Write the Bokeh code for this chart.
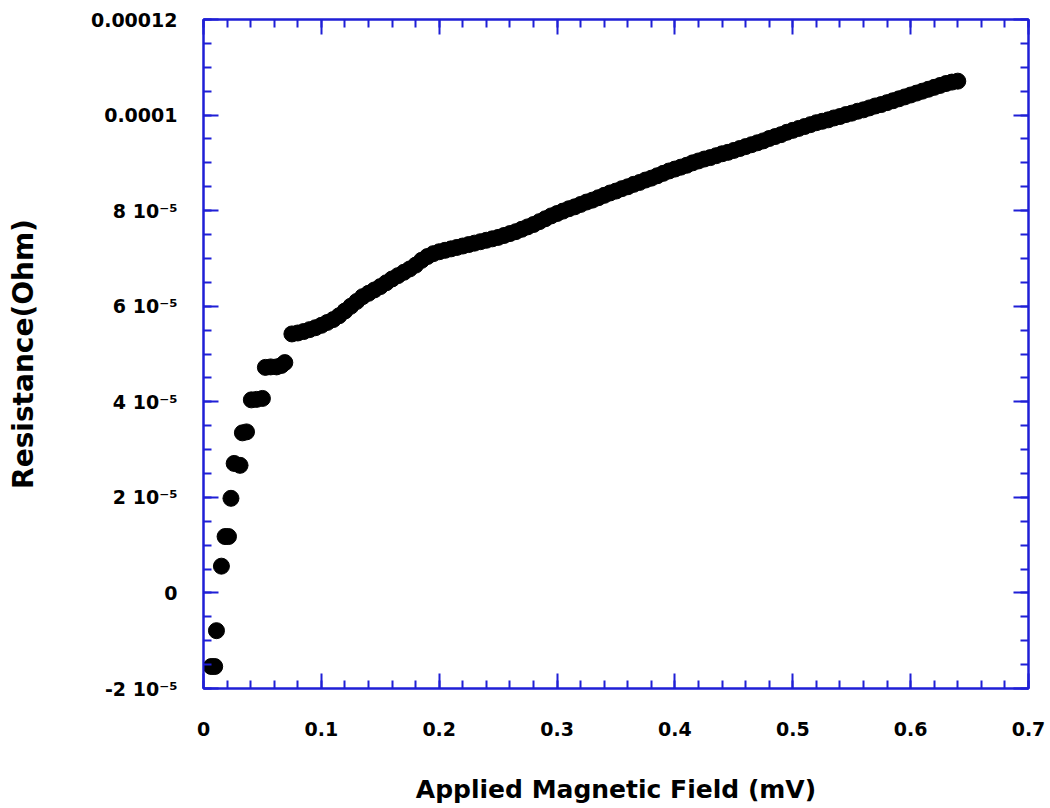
from bokeh.plotting import figure
from bokeh.models import (LinearAxis, SingleIntervalTicker, CustomJSTickFormatter, Range1d,
                          CustomLabelingPolicy)
from bokeh.embed import file_html
from bokeh.resources import INLINE

# ---------------- data ----------------
RES_SCALE = 1e-5  # resistance values below are in units of 1e-5 Ohm

field_early = [0.0066, 0.0095, 0.011, 0.0152, 0.0183, 0.0212, 0.0233, 0.026, 0.031,
               0.033, 0.0365, 0.0406, 0.045, 0.050, 0.0525, 0.057, 0.062, 0.066, 0.069]
res_early = [-1.54, -1.54, -0.79, 0.56, 1.18, 1.18, 1.98, 2.71, 2.67,
             3.35, 3.37, 4.04, 4.05, 4.07, 4.72, 4.73, 4.73, 4.76, 4.82]

field_curve = [0.075, 0.080, 0.085, 0.090, 0.095, 0.100, 0.105, 0.110, 0.115, 0.120,
               0.125, 0.130, 0.135, 0.140, 0.145, 0.150, 0.155, 0.160, 0.165, 0.170,
               0.175, 0.180, 0.185, 0.190, 0.195, 0.200, 0.205, 0.210, 0.215, 0.220,
               0.225, 0.230, 0.235, 0.240, 0.245, 0.250, 0.255, 0.260, 0.265, 0.270,
               0.275, 0.280, 0.285, 0.290, 0.295, 0.300, 0.305, 0.310, 0.315, 0.320,
               0.325, 0.330, 0.335, 0.340, 0.345, 0.350, 0.355, 0.360, 0.365, 0.370,
               0.375, 0.380, 0.385, 0.390, 0.395, 0.400, 0.405, 0.410, 0.415, 0.420,
               0.425, 0.430, 0.435, 0.440, 0.445, 0.450, 0.455, 0.460, 0.465, 0.470,
               0.475, 0.480, 0.485, 0.490, 0.495, 0.500, 0.505, 0.510, 0.515, 0.520,
               0.525, 0.530, 0.535, 0.540, 0.545, 0.550, 0.555, 0.560, 0.565, 0.570,
               0.575, 0.580, 0.585, 0.590, 0.595, 0.600, 0.605, 0.610, 0.615, 0.620,
               0.625, 0.630, 0.635, 0.640]
res_curve = [5.42, 5.44, 5.47, 5.51, 5.55, 5.60, 5.66, 5.72, 5.80, 5.90,
             6.00, 6.10, 6.20, 6.27, 6.34, 6.41, 6.49, 6.57, 6.64, 6.71,
             6.78, 6.86, 6.96, 7.04, 7.10, 7.14, 7.17, 7.20, 7.23, 7.26,
             7.29, 7.32, 7.35, 7.38, 7.41, 7.44, 7.48, 7.52, 7.56, 7.61,
             7.66, 7.71, 7.77, 7.83, 7.89, 7.94, 7.99, 8.04, 8.08, 8.13,
             8.18, 8.22, 8.27, 8.32, 8.37, 8.41, 8.46, 8.50, 8.55, 8.59,
             8.64, 8.68, 8.73, 8.78, 8.83, 8.87, 8.91, 8.95, 9.00, 9.04,
             9.08, 9.11, 9.15, 9.19, 9.22, 9.26, 9.30, 9.34, 9.38, 9.42,
             9.46, 9.51, 9.55, 9.59, 9.64, 9.68, 9.72, 9.76, 9.80, 9.84,
             9.87, 9.90, 9.94, 9.97, 10.01, 10.04, 10.08, 10.11, 10.15, 10.19,
             10.22, 10.26, 10.30, 10.34, 10.38, 10.42, 10.46, 10.50, 10.54, 10.58,
             10.62, 10.66, 10.69, 10.71]

y_tick_values = [-2e-5, 0.0, 2e-5, 4e-5, 6e-5, 8e-5, 1e-4, 1.2e-4]
y_tick_labels = ["-2 10\u207b\u2075", "0", "2 10\u207b\u2075", "4 10\u207b\u2075",
                 "6 10\u207b\u2075", "8 10\u207b\u2075", "0.0001", "0.00012"]

x_label = "Applied Magnetic Field (mV)"
y_label = "Resistance(Ohm)"

# ---------------- styling ----------------
BLUE = "#1f1fd6"
FONT = "DejaVu Sans"
EPS = 1e-9

field = field_early + field_curve
resistance = [v * RES_SCALE for v in (res_early + res_curve)]

p = figure(width=1050, height=808, output_backend="svg", toolbar_location=None,
           x_range=Range1d(0, 0.7 + EPS), y_range=Range1d(-2e-5, 1.2e-4 + EPS * 1e-4),
           min_border_left=203, min_border_right=22, min_border_top=19,
           min_border_bottom=120, x_axis_location=None, y_axis_location=None)
p.background_fill_color = "white"
p.border_fill_color = "white"
p.outline_line_color = BLUE
p.outline_line_width = 2
p.xgrid.visible = False
p.ygrid.visible = False

x_ticker = SingleIntervalTicker(interval=0.1, num_minor_ticks=5)
y_ticker = SingleIntervalTicker(interval=2e-5, num_minor_ticks=4)

y_fmt = CustomJSTickFormatter(args=dict(vals=y_tick_values, labels=y_tick_labels), code="""
let best = -1, bd = Infinity;
for (let i = 0; i < vals.length; i++) {
  const d = Math.abs(vals[i] - tick);
  if (d < bd) { bd = d; best = i; }
}
return bd < 1e-9 ? labels[best] : "";
""")
x_fmt = CustomJSTickFormatter(code="""
if (Math.abs(tick) < 1e-9) return "0";
return tick.toFixed(1);
""")

def style_axis(ax, labels=True):
    ax.axis_line_color = BLUE
    ax.axis_line_width = 2
    ax.major_tick_line_color = BLUE
    ax.major_tick_line_width = 2
    ax.minor_tick_line_color = BLUE
    ax.minor_tick_line_width = 2
    ax.major_tick_in = 15
    ax.major_tick_out = 0
    ax.minor_tick_in = 8
    ax.minor_tick_out = 0
    if labels:
        ax.major_label_text_font = FONT
        ax.major_label_text_font_style = "bold"
        ax.major_label_text_font_size = "19px"
        ax.major_label_text_color = "black"
        ax.axis_label_text_font = FONT
        ax.axis_label_text_font_style = "bold"
        ax.axis_label_text_color = "black"
    else:
        ax.major_label_policy = CustomLabelingPolicy(code="return []")
        ax.major_label_text_font_size = "0px"
        ax.major_label_standoff = 0

xb = LinearAxis(ticker=x_ticker, formatter=x_fmt, axis_label=x_label)
style_axis(xb)
xb.axis_label_text_font_size = "25px"
xb.major_label_standoff = 33
xb.axis_label_standoff = 36
p.add_layout(xb, "below")

yl = LinearAxis(ticker=y_ticker, formatter=y_fmt, axis_label=y_label)
style_axis(yl)
yl.axis_label_text_font_size = "28px"
yl.major_label_standoff = 26
yl.axis_label_standoff = 48
p.add_layout(yl, "left")

xt = LinearAxis(ticker=x_ticker)
style_axis(xt, labels=False)
p.add_layout(xt, "above")

yr = LinearAxis(ticker=y_ticker)
style_axis(yr, labels=False)
p.add_layout(yr, "right")

p.scatter(field, resistance, marker="circle", size=16,
          fill_color="black", line_color="black")

open("out.html", "w").write(file_html(p, INLINE))
